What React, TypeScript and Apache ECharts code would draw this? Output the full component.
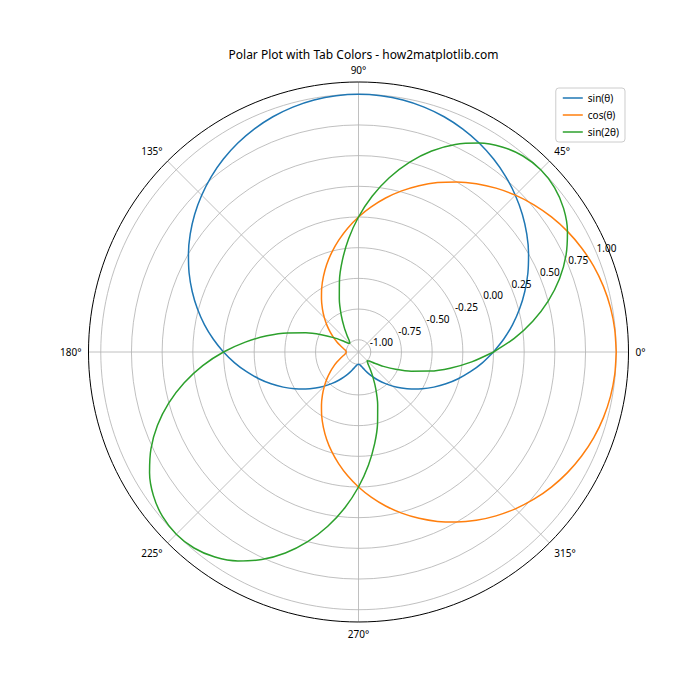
import React, { useEffect, useRef } from "react";
import * as echarts from "echarts";

const TITLE = "Polar Plot with Tab Colors - how2matplotlib.com";
const SERIES_NAMES = ["sin(θ)", "cos(θ)", "sin(2θ)"];
const COLORS = ["#1f77b4", "#ff7f0e", "#2ca02c"];

const ANGLES = [
  0, 5, 10, 15, 20, 25, 30, 35, 40, 45, 50, 55, 60, 65, 70, 75, 80, 85, 90,
  95, 100, 105, 110, 115, 120, 125, 130, 135, 140, 145, 150, 155, 160, 165, 170, 175, 180,
  185, 190, 195, 200, 205, 210, 215, 220, 225, 230, 235, 240, 245, 250, 255, 260, 265, 270,
  275, 280, 285, 290, 295, 300, 305, 310, 315, 320, 325, 330, 335, 340, 345, 350, 355, 360,
];

const SIN_VALUES = [
  0, 0.087, 0.174, 0.259, 0.342, 0.423, 0.5, 0.574, 0.643, 0.707, 0.766, 0.819, 0.866, 0.906, 0.94, 0.966, 0.985, 0.996, 1,
  0.996, 0.985, 0.966, 0.94, 0.906, 0.866, 0.819, 0.766, 0.707, 0.643, 0.574, 0.5, 0.423, 0.342, 0.259, 0.174, 0.087, 0,
  -0.087, -0.174, -0.259, -0.342, -0.423, -0.5, -0.574, -0.643, -0.707, -0.766, -0.819, -0.866, -0.906, -0.94, -0.966, -0.985, -0.996, -1,
  -0.996, -0.985, -0.966, -0.94, -0.906, -0.866, -0.819, -0.766, -0.707, -0.643, -0.574, -0.5, -0.423, -0.342, -0.259, -0.174, -0.087, 0,
];

const COS_VALUES = [
  1, 0.996, 0.985, 0.966, 0.94, 0.906, 0.866, 0.819, 0.766, 0.707, 0.643, 0.574, 0.5, 0.423, 0.342, 0.259, 0.174, 0.087, 0,
  -0.087, -0.174, -0.259, -0.342, -0.423, -0.5, -0.574, -0.643, -0.707, -0.766, -0.819, -0.866, -0.906, -0.94, -0.966, -0.985, -0.996, -1,
  -0.996, -0.985, -0.966, -0.94, -0.906, -0.866, -0.819, -0.766, -0.707, -0.643, -0.574, -0.5, -0.423, -0.342, -0.259, -0.174, -0.087, 0,
  0.087, 0.174, 0.259, 0.342, 0.423, 0.5, 0.574, 0.643, 0.707, 0.766, 0.819, 0.866, 0.906, 0.94, 0.966, 0.985, 0.996, 1,
];

const SIN2_VALUES = [
  0, 0.174, 0.342, 0.5, 0.643, 0.766, 0.866, 0.94, 0.985, 1, 0.985, 0.94, 0.866, 0.766, 0.643, 0.5, 0.342, 0.174, 0,
  -0.174, -0.342, -0.5, -0.643, -0.766, -0.866, -0.94, -0.985, -1, -0.985, -0.94, -0.866, -0.766, -0.643, -0.5, -0.342, -0.174, 0,
  0.174, 0.342, 0.5, 0.643, 0.766, 0.866, 0.94, 0.985, 1, 0.985, 0.94, 0.866, 0.766, 0.643, 0.5, 0.342, 0.174, 0,
  -0.174, -0.342, -0.5, -0.643, -0.766, -0.866, -0.94, -0.985, -1, -0.985, -0.94, -0.866, -0.766, -0.643, -0.5, -0.342, -0.174, 0,
];

const R_TICKS = [-1, -0.75, -0.5, -0.25, 0, 0.25, 0.5, 0.75, 1];
const R_MIN = -1.1;
const R_MAX = 1.1;

const FONT = "'Noto Sans', 'DejaVu Sans', sans-serif";

export default function App() {
  const ref = useRef<HTMLDivElement>(null);

  useEffect(() => {
    if (!ref.current) return;
    const chart = echarts.init(ref.current, null, { renderer: "svg" });
    const allValues = [SIN_VALUES, COS_VALUES, SIN2_VALUES];
    const center = [358.5, 352];
    const radius = 270;

    chart.setOption({
      animation: false,
      backgroundColor: "#ffffff",
      textStyle: { fontFamily: FONT },
      title: {
        text: TITLE,
        left: 358.5,
        top: 43,
        textAlign: "center",
        textStyle: { fontFamily: FONT, fontSize: 12, fontWeight: "normal", color: "#000" },
      },
      legend: {
        orient: "vertical",
        right: 75,
        top: 88,
        data: SERIES_NAMES,
        icon: "rect",
        itemWidth: 20,
        itemHeight: 1.5,
        itemGap: 7,
        padding: [5, 6, 5, 7],
        backgroundColor: "#ffffff",
        borderColor: "#cccccc",
        borderWidth: 1,
        borderRadius: 3,
        textStyle: { fontFamily: FONT, fontSize: 10, color: "#000" },
      },
      polar: [
        { center, radius },
        { center, radius },
      ],
      angleAxis: [
        {
          polarIndex: 0,
          type: "value",
          min: 0,
          max: 360,
          interval: 45,
          startAngle: 0,
          clockwise: false,
          axisLine: { show: true, lineStyle: { color: "#000", width: 1 } },
          axisTick: { show: false },
          axisLabel: {
            show: true,
            margin: 7,
            color: "#000",
            fontSize: 10,
            fontFamily: FONT,
            formatter: (v: number) => (v === 360 ? "" : v + "°"),
          },
          splitLine: { show: true, lineStyle: { color: "#b0b0b0", width: 0.8 } },
        },
        {
          polarIndex: 1,
          type: "value",
          min: 0,
          max: 360,
          startAngle: 22.5,
          clockwise: false,
          show: false,
        },
      ],
      radiusAxis: [
        {
          polarIndex: 0,
          type: "value",
          min: R_MIN,
          max: R_MAX,
          axisLine: { show: false },
          axisTick: { show: false, customValues: R_TICKS },
          axisLabel: { show: false, customValues: R_TICKS },
          splitLine: { show: true, lineStyle: { color: "#b0b0b0", width: 0.8 } },
        },
        {
          polarIndex: 1,
          type: "value",
          min: R_MIN,
          max: R_MAX,
          axisLine: { show: false },
          axisTick: { show: false, customValues: R_TICKS },
          splitLine: { show: false },
          axisLabel: {
            show: true,
            customValues: R_TICKS,
            margin: 0,
            align: "left",
            verticalAlign: "bottom",
            color: "#000",
            fontSize: 10,
            fontFamily: FONT,
            formatter: (v: number) => v.toFixed(2),
          },
          z: 10,
        },
      ],
      series: SERIES_NAMES.map((name, si) => ({
        name,
        type: "line",
        coordinateSystem: "polar",
        polarIndex: 0,
        symbol: "none",
        smooth: 0.25,
        color: COLORS[si],
        lineStyle: { color: COLORS[si], width: 1.5 },
        data: ANGLES.map((a, i) => [allValues[si][i], a]),
        z: 3,
      })),
    });

    return () => chart.dispose();
  }, []);

  return (
    <div
      ref={ref}
      style={{ position: "fixed", left: 0, top: 0, width: 700, height: 700 }}
    />
  );
}
